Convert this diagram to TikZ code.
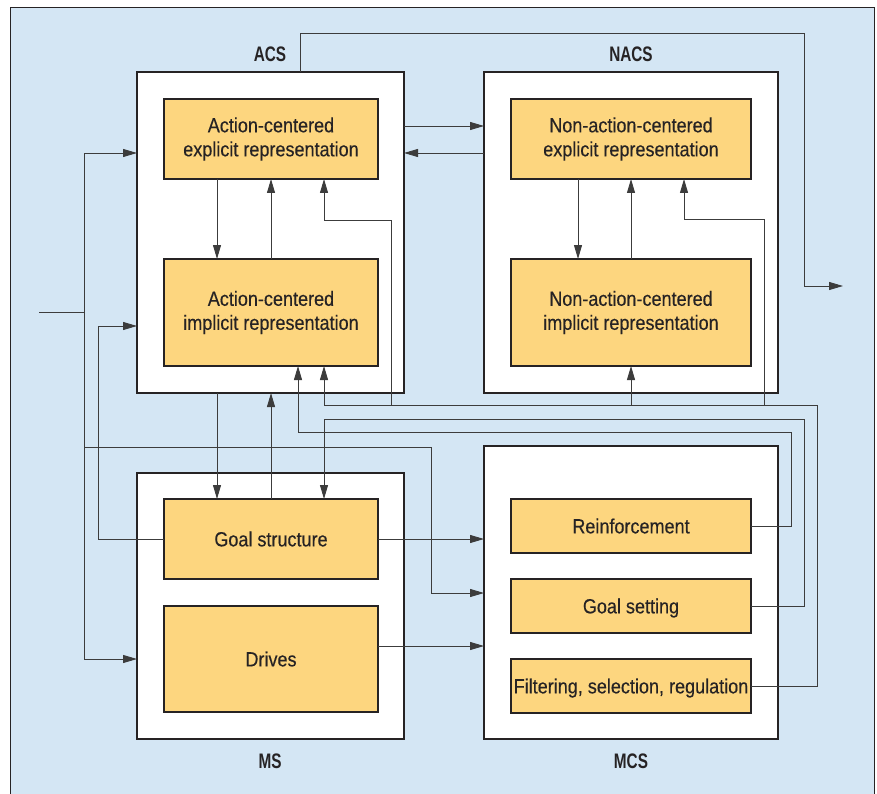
\documentclass[tikz,border=0pt]{standalone}
\usepackage{fontspec}
\setmainfont{Liberation Sans}[FakeStretch=0.88,FakeBold=0.3]
\newfontfamily\lblfont{Liberation Sans}[FakeStretch=0.73]
\usetikzlibrary{arrows.meta}
\definecolor{bgblue}{HTML}{D4E6F4}
\definecolor{boxyellow}{HTML}{FDD67F}
\definecolor{ink}{HTML}{262324}
\definecolor{wire}{HTML}{3C3C3C}

\begin{document}
\begin{tikzpicture}[x=1pt,y=-1pt,
  sysbox/.style={draw=ink,line width=1.1pt,fill=white,inner sep=0pt,outer sep=0pt},
  unitbox/.style={draw=ink,line width=1.1pt,fill=boxyellow,inner sep=0pt,outer sep=0pt,
    align=center,text=ink,font=\fontsize{20.5}{24}\selectfont},
  oneline/.style={unitbox,text height=14.7pt,text depth=0pt},
  syslabel/.style={text=ink,font=\lblfont\bfseries\fontsize{21}{24}\selectfont},
  link/.style={draw=wire,line width=0.9pt},
  arr/.style={link,-{Triangle[length=14pt,width=8pt]}},
]
\useasboundingbox (0,0) rectangle (877,794);
% background panel
\fill[bgblue] (10,7) rectangle (874,794);
\draw[ink,line width=0.9pt] (10,794) -- (10,7) -- (874,7) -- (874,794);

% subsystems
\node[sysbox,minimum width=267pt,minimum height=321pt] (acs)  at (270.5,232.5) {};
\node[sysbox,minimum width=294pt,minimum height=321pt] (nacs) at (631,232.5) {};
\node[sysbox,minimum width=267pt,minimum height=266pt] (ms)   at (270.5,606) {};
\node[sysbox,minimum width=294pt,minimum height=293pt] (mcs)  at (631,592.5) {};

\node[syslabel] (acsL)  at (270,54)  {ACS};
\node[syslabel] (nacsL) at (631,54)  {NACS};
\node[syslabel] (msL)   at (270,761) {MS};
\node[syslabel] (mcsL)  at (631,761) {MCS};

% modules
\node[unitbox,minimum width=214pt,minimum height=80pt]  (acsE)  at (271,139)   {Action-centered\\explicit representation};
\node[unitbox,minimum width=214pt,minimum height=107pt] (acsI)  at (271,312.5) {Action-centered\\implicit representation};
\node[unitbox,minimum width=240pt,minimum height=80pt]  (nacsE) at (631,139)   {Non-action-centered\\explicit representation};
\node[unitbox,minimum width=240pt,minimum height=107pt] (nacsI) at (631,312.5) {Non-action-centered\\implicit representation};
\node[oneline,minimum width=214pt,minimum height=80pt]  (goal)   at (271,539) {Goal structure};
\node[oneline,minimum width=214pt,minimum height=106pt] (drives) at (271,659) {Drives};
\node[oneline,minimum width=240pt,minimum height=54pt]  (reinf)  at (631,526) {Reinforcement};
\node[oneline,minimum width=240pt,minimum height=54pt]  (gset)   at (631,606) {Goal setting};
\node[oneline,minimum width=240pt,minimum height=54pt]  (filt)   at (631,686) {Filtering, selection, regulation};

\coordinate (src) at (39,312);
\coordinate (ext) at (843,286);

% action output
\draw[arr] (acs.north -| 300,0) |- (804,33) |- (ext);

% external input bus
\draw[link] (src) -- (84,312);
\draw[arr] (84,312) |- (acs.west |- 0,153);
\draw[arr] (84,312) |- (ms.west |- 0,659);
\draw[arr] (84,447) -| (431,593) -- (mcs.west |- 0,593);

% goal structure back into ACS
\draw[arr] (goal.west) -| (98,326) -- (acs.west |- 0,326);

% ACS <-> NACS
\draw[arr] (acs.east |- 0,126) -- (nacs.west |- 0,126);
\draw[arr] (nacs.west |- 0,153) -- (acs.east |- 0,153);

% top-down / bottom-up inside ACS and NACS
\draw[arr] (acsE.south -| 217,0) -- (acsI.north -| 217,0);
\draw[arr] (acsI.north) -- (acsE.south);
\draw[arr] (nacsE.south -| 578,0) -- (nacsI.north -| 578,0);
\draw[arr] (nacsI.north) -- (nacsE.south);

% ACS <-> MS
\draw[arr] (acs.south -| 217,0) -- (goal.north -| 217,0);
\draw[arr] (goal.north) -- (acs.south -| goal.north);

% MS -> MCS
\draw[arr] (goal.east) -- (mcs.west |- goal.east);
\draw[arr] (drives.east |- 0,646) -- (mcs.west |- 0,646);

% reinforcement -> ACS implicit
\draw[arr] (reinf.east) -| (791,432) -| (acsI.south -| 298,0);

% goal setting -> goal structure
\draw[arr] (gset.east) -| (804,419) -| (goal.north -| 324,0);

% filtering / selection / regulation -> all representations
\draw[arr] (filt.east) -| (817,405) -| (acsI.south -| 324,0);
\draw[arr] (391,405) |- (324,220) -- (acsE.south -| 324,0);
\draw[arr] (nacsI.south |- 0,405) -- (nacsI.south);
\draw[arr] (764,405) |- (684,219) -- (nacsE.south -| 684,0);
\end{tikzpicture}
\end{document}
